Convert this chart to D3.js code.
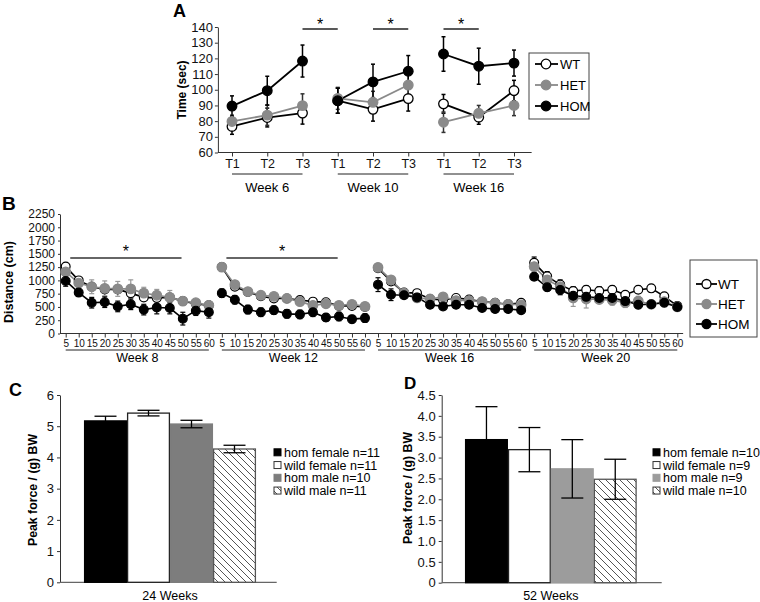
<!DOCTYPE html>
<html><head><meta charset="utf-8">
<script src="https://cdn.jsdelivr.net/npm/d3@7"></script>
<style>body{margin:0;background:#fff} svg{display:block}</style>
</head><body><svg id="c" width="760" height="602"></svg>
<script>
// ---------- DATA ----------
// Panel A
const aTicks = ["T1","T2","T3","T1","T2","T3","T1","T2","T3"];
const aWeeks = ["Week 6","Week 10","Week 16"];
const aYTicks = [60,70,80,90,100,110,120,130,140];
const aWT     = [76.6, 82.3, 85.1, 93.0, 87.5, 94.4, 91.0, 82.5, 99.5];
const aWTerr  = [5.0, 6.0, 7.0, 8.0, 7.5, 8.0, 6.0, 4.5, 6.5];
const aHET    = [79.8, 83.8, 89.9, 94.5, 92.0, 103.0, 79.3, 85.0, 90.0];
const aHETerr = [4.0, 6.5, 7.5, 7.0, 7.0, 8.0, 6.5, 5.0, 6.5];
const aHOM    = [89.6, 99.4, 118.3, 93.0, 105.0, 111.8, 122.8, 115.0, 117.0];
const aHOMerr = [6.5, 9.2, 10.2, 8.0, 11.3, 10.0, 11.0, 11.5, 8.3];
const aSig    = [[2,3],[4,5],[6,7]];
const seriesNames = ["WT","HET","HOM"];

// Panel B
const bMinutes = [5,10,15,20,25,30,35,40,45,50,55,60];
const bWeeks = ["Week 8","Week 12","Week 16","Week 20"];
const bYTicks = [0,250,500,750,1000,1250,1500,1750,2000,2250];
const bWT = [
  [1260,1000,880,830,830,760,680,670,680,610,560,530],
  [1250,880,780,700,660,660,630,600,590,520,520,500],
  [1230,980,770,760,650,630,670,640,600,580,550,580],
  [1330,1075,920,800,825,800,825,730,825,850,700,520]];
const bWTerr = [
  [60,50,60,60,60,80,60,70,60,50,50,50],
  [50,50,40,40,40,40,40,40,40,40,40,40],
  [40,40,40,40,40,40,40,40,40,40,40,40],
  [110,90,90,80,70,80,70,60,70,70,60,60]];
const bHET = [
  [1160,950,880,850,840,840,760,720,680,610,580,530],
  [1250,920,790,720,700,660,600,530,560,530,550,510],
  [1245,1010,760,670,650,690,620,620,600,570,550,540],
  [1260,1010,880,670,650,640,625,580,610,550,600,500]];
const bHETerr = [
  [80,80,130,140,140,170,110,110,130,60,60,60],
  [50,50,50,50,50,50,50,50,50,50,50,50],
  [50,50,50,50,50,50,50,50,50,50,50,50],
  [80,90,110,160,170,70,90,90,90,70,100,70]];
const bHOM = [
  [990,770,580,590,510,550,450,490,480,280,430,400],
  [760,635,450,400,440,370,360,400,300,320,270,290],
  [920,730,720,680,540,510,540,540,480,460,460,440],
  [1070,870,820,710,690,670,670,610,540,550,580,500]];
const bHOMerr = [
  [100,70,100,100,100,100,100,120,110,120,90,110],
  [80,80,80,80,80,80,80,80,70,80,70,80],
  [130,110,60,60,60,60,60,60,60,60,60,60],
  [70,70,90,70,70,70,70,70,70,70,70,70]];
const bSig = [[0,9],[12,21]];

// Panel C
const cLabels = ["hom female n=11","wild female n=11","hom male n=10","wild male n=11"];
const cValues = [5.17, 5.42, 5.07, 4.27];
const cErr    = [0.15, 0.09, 0.12, 0.12];
const cYTicks = [0,1,2,3,4,5,6];
const cTitle = "24 Weeks";

// Panel D
const dLabels = ["hom female n=10","wild female n=9","hom male n=9","wild male n=10"];
const dValues = [3.43, 3.19, 2.73, 2.48];
const dErr    = [0.79, 0.53, 0.70, 0.48];
const dYTicks = [0,0.5,1.0,1.5,2.0,2.5,3.0,3.5,4.0,4.5];
const dTitle = "52 Weeks";

// ---------- STYLE ----------
const FONT = "'Liberation Sans', Arial, Helvetica, sans-serif";
const AX = "#333";
const GRAY = "#8a8a8a";
const svg = d3.select("#c").attr("font-family", FONT);

const defs = svg.append("defs");
const pat = defs.append("pattern").attr("id","hatch").attr("patternUnits","userSpaceOnUse")
  .attr("width",7).attr("height",7);
pat.append("rect").attr("width",7).attr("height",7).attr("fill","#fff");
pat.append("path").attr("d","M0,0L7,7M-1,6L1,8M6,-1L8,1").attr("stroke","#555").attr("stroke-width",1);

function styleAxis(g, fs){
  g.attr("font-family", FONT).attr("font-size", fs);
  g.selectAll("path,line").attr("stroke", AX);
  g.selectAll("text").attr("fill","#111");
}
function panelLabel(t,x,y,fs){
  svg.append("text").attr("x",x).attr("y",y).attr("font-size",fs).attr("font-weight","bold").text(t);
}
function yTitle(t,x,y,fs){
  svg.append("text").attr("transform",`translate(${x},${y}) rotate(-90)`).attr("text-anchor","middle")
    .attr("dy","0.35em").attr("font-size",fs).attr("font-weight","bold").text(t);
}
function errBar(g, x, y1, y2, cap, color, w){
  g.append("line").attr("x1",x).attr("x2",x).attr("y1",y1).attr("y2",y2).attr("stroke",color).attr("stroke-width",w);
  [y1,y2].forEach(y=>g.append("line").attr("x1",x-cap).attr("x2",x+cap).attr("y1",y).attr("y2",y)
    .attr("stroke",color).attr("stroke-width",w));
}
const styles = {
  WT:  {fill:"#fff", stroke:"#000", line:"#000", err:"#000"},
  HET: {fill:GRAY, stroke:GRAY, line:GRAY, err:"#333"},
  HOM: {fill:"#000", stroke:"#000", line:"#000", err:"#000"}
};

// ---------- PANEL A ----------
panelLabel("A",173,17,18);
const xA = d3.scaleLinear().domain([0,8]).range([232,514]);
const yA = d3.scaleLinear().domain([60,140]).range([152.5,27]);
const gA = svg.append("g");
const yAxA = gA.append("g").attr("transform",`translate(${xA(-0.4)},0)`)
  .call(d3.axisLeft(yA).tickValues(aYTicks).tickFormat(d3.format("d")).tickSize(3).tickSizeOuter(0).tickPadding(2));
styleAxis(yAxA, 13);
const xAxA = gA.append("g").attr("transform",`translate(0,${yA(60)})`)
  .call(d3.axisBottom(xA).tickValues(d3.range(9)).tickFormat(i=>aTicks[i]).tickSize(4).tickPadding(3));
xAxA.select(".domain").remove();
xAxA.append("line").attr("x1",xA(-0.4)).attr("x2",xA(8.5)).attr("y1",0).attr("y2",0);
styleAxis(xAxA, 12.5);
aWeeks.forEach((w,g)=>{
  gA.append("line").attr("x1",xA(3*g)).attr("x2",xA(3*g+2)).attr("y1",174).attr("y2",174).attr("stroke","#222");
  gA.append("text").attr("x",xA(3*g+1)).attr("y",191.5).attr("text-anchor","middle").attr("font-size",13).text(w);
});
aSig.forEach(([a,b])=>{
  gA.append("line").attr("x1",xA(a)).attr("x2",xA(b)).attr("y1",29).attr("y2",29).attr("stroke","#222").attr("stroke-width",1.5);
  gA.append("text").attr("x",(xA(a)+xA(b))/2).attr("y",29.5).attr("text-anchor","middle").attr("font-size",16).text("*");
});
yTitle("Time (sec)",181.5,90,12);
const aData = {WT:[aWT,aWTerr], HET:[aHET,aHETerr], HOM:[aHOM,aHOMerr]};
seriesNames.forEach(n=>{
  const [v,e]=aData[n];
  v.forEach((d,i)=>errBar(gA, xA(i), yA(d-e[i]), yA(d+e[i]), 2, styles[n].err, 1.5));
});
seriesNames.forEach(n=>{
  const v=aData[n][0];
  const line=d3.line().x(i=>xA(i)).y(i=>yA(v[i]));
  [0,1,2].forEach(g=>gA.append("path").attr("d",line([3*g,3*g+1,3*g+2])).attr("fill","none")
    .attr("stroke",styles[n].line).attr("stroke-width",1.8));
});
seriesNames.forEach(n=>{
  const v=aData[n][0];
  gA.selectAll(null).data(v).enter().append("circle").attr("cx",(d,i)=>xA(i)).attr("cy",d=>yA(d)).attr("r",4.8)
    .attr("fill",styles[n].fill).attr("stroke",styles[n].stroke).attr("stroke-width",1.3);
});
// legend A
const lgA = svg.append("g");
lgA.append("rect").attr("x",529).attr("y",53).attr("width",60).attr("height",66).attr("fill","#fff").attr("stroke","#444");
seriesNames.forEach((n,i)=>{
  const y=64+i*21;
  lgA.append("line").attr("x1",535).attr("x2",558).attr("y1",y).attr("y2",y).attr("stroke",styles[n].line).attr("stroke-width",1.8);
  lgA.append("circle").attr("cx",546).attr("cy",y).attr("r",4.8).attr("fill",styles[n].fill).attr("stroke",styles[n].stroke).attr("stroke-width",1.3);
  lgA.append("text").attr("x",560).attr("y",y).attr("dy","0.36em").attr("font-size",13).text(n);
});

// ---------- PANEL B ----------
panelLabel("B",2,210,19);
const xB = d3.scaleLinear().domain([0,47]).range([65.7,677.3]);
const yB = d3.scaleLinear().domain([0,2250]).range([333.5,214]);
const gB = svg.append("g");
const yAxB = gB.append("g").attr("transform","translate(60,0)")
  .call(d3.axisLeft(yB).tickValues(bYTicks).tickFormat(d3.format("d")).tickSize(2).tickSizeOuter(0).tickPadding(3));
styleAxis(yAxB, 12);
const xAxB = gB.append("g").attr("transform",`translate(0,${yB(0)})`)
  .call(d3.axisBottom(xB).tickValues(d3.range(48)).tickFormat(i=>bMinutes[i%12]).tickSize(4).tickPadding(2));
xAxB.select(".domain").remove();
xAxB.append("line").attr("x1",60).attr("x2",xB(47.45)).attr("y1",0).attr("y2",0);
styleAxis(xAxB, 10);
bWeeks.forEach((w,g)=>{
  gB.append("line").attr("x1",xB(12*g)).attr("x2",xB(12*g+11)).attr("y1",350).attr("y2",350).attr("stroke","#222");
  gB.append("text").attr("x",xB(12*g+5.5)).attr("y",361.5).attr("text-anchor","middle").attr("font-size",12.5).text(w);
});
bSig.forEach(([a,b])=>{
  gB.append("line").attr("x1",xB(a+0.35)).attr("x2",xB(b-0.1)).attr("y1",258).attr("y2",258).attr("stroke","#333").attr("stroke-width",1.6);
  gB.append("text").attr("x",(xB(a+0.35)+xB(b-0.1))/2).attr("y",256.5).attr("text-anchor","middle").attr("font-size",16).text("*");
});
yTitle("Distance (cm)",8.5,282,12.5);
const bData = {WT:[bWT,bWTerr], HET:[bHET,bHETerr], HOM:[bHOM,bHOMerr]};
const bErrCol = {WT:"#000", HET:"#999", HOM:"#000"};
seriesNames.forEach(n=>{
  const [v,e]=bData[n];
  v.forEach((arr,g)=>arr.forEach((d,k)=>errBar(gB, xB(12*g+k), yB(d-e[g][k]), yB(d+e[g][k]), 2.5, bErrCol[n], 1.2)));
});
seriesNames.forEach(n=>{
  const v=bData[n][0];
  v.forEach((arr,g)=>{
    const line=d3.line().x((d,k)=>xB(12*g+k)).y(d=>yB(d));
    gB.append("path").attr("d",line(arr)).attr("fill","none").attr("stroke",styles[n].line).attr("stroke-width",1.6);
  });
});
seriesNames.forEach(n=>{
  const v=bData[n][0];
  v.forEach((arr,g)=>{
    gB.selectAll(null).data(arr).enter().append("circle").attr("cx",(d,k)=>xB(12*g+k)).attr("cy",d=>yB(d))
      .attr("r", n==="HET"?4.8:4.4).attr("fill",styles[n].fill).attr("stroke",styles[n].stroke).attr("stroke-width",1.2);
  });
});
const lgB = svg.append("g");
lgB.append("rect").attr("x",690).attr("y",260).attr("width",67).attr("height",77).attr("fill","#fff").attr("stroke","#444");
seriesNames.forEach((n,i)=>{
  const y=284+i*20;
  lgB.append("line").attr("x1",696).attr("x2",717).attr("y1",y).attr("y2",y).attr("stroke",styles[n].line).attr("stroke-width",1.8);
  lgB.append("circle").attr("cx",706.5).attr("cy",y).attr("r",4.5).attr("fill",styles[n].fill).attr("stroke",styles[n].stroke).attr("stroke-width",1.3);
  lgB.append("text").attr("x",718).attr("y",y).attr("dy","0.36em").attr("font-size",13.5).text(n);
});

// ---------- BAR PANELS ----------
const barFills = ["#000","#fff",null,"url(#hatch)"];
const barStrokes = ["#000","#222",null,"#555"];
function barPanel(opt){
  const g = svg.append("g");
  const y = d3.scaleLinear().domain(opt.dom).range([opt.y0, opt.y1]);
  const x = d3.scaleBand().domain(opt.labels).range(opt.xr).padding(0);
  const ya = g.append("g").attr("transform",`translate(${opt.ax},0)`)
    .call(d3.axisLeft(y).tickValues(opt.ticks).tickFormat(opt.fmt).tickSize(3).tickSizeOuter(0).tickPadding(3));
  styleAxis(ya, 13);
  g.append("line").attr("x1",opt.ax).attr("x2",opt.axEnd).attr("y1",y(0)).attr("y2",y(0)).attr("stroke","#666").attr("stroke-width",1.3);
  const fills = barFills.map((f,i)=>f||opt.gray);
  const strokes = barStrokes.map((s,i)=>s||opt.grayStroke);
  g.selectAll(null).data(opt.values).enter().append("rect")
    .attr("x",(d,i)=>x(opt.labels[i])+0.6).attr("width",x.bandwidth()-1.2)
    .attr("y",d=>y(d)).attr("height",d=>y(0)-y(d))
    .attr("fill",(d,i)=>fills[i]).attr("stroke",(d,i)=>strokes[i]).attr("stroke-width",1.3);
  opt.values.forEach((d,i)=>errBar(g, x(opt.labels[i])+x.bandwidth()/2, y(d-opt.err[i]), y(d+opt.err[i]), 11, "#000", 1.3));
  g.append("text").attr("x",(opt.xr[0]+opt.xr[1])/2).attr("y",600).attr("text-anchor","middle").attr("font-size",12.5).text(opt.title);
  opt.labels.forEach((l,i)=>{
    const cy = opt.ly + i*12.75;
    g.append("rect").attr("x",opt.lx).attr("y",cy-3.5).attr("width",7).attr("height",7)
      .attr("fill",fills[i]).attr("stroke",i===0?"#000":(i===2?opt.gray:"#333")).attr("stroke-width",1);
    g.append("text").attr("x",opt.lx+10).attr("y",cy).attr("dy","0.36em").attr("font-size",12.5).text(l);
  });
}
panelLabel("C",9,396,18);
yTitle("Peak force / (g) BW",33,490,12.3);
barPanel({dom:[0,6], y0:582.3, y1:395, labels:cLabels, values:cValues, err:cErr, ticks:cYTicks,
  fmt:d3.format("d"), ax:60, axEnd:276.7, xr:[84,256], gray:"#7d7d7d", grayStroke:"#7d7d7d",
  title:cTitle, lx:274, ly:452.3});
panelLabel("D",404,389,17);
yTitle("Peak force / (g) BW",407.5,488,12.3);
barPanel({dom:[0,4.5], y0:582.7, y1:395, labels:dLabels, values:dValues, err:dErr, ticks:dYTicks,
  fmt:d=>d===0?"0":d3.format(".1f")(d), ax:441.7, axEnd:661.7, xr:[465,636.7], gray:"#9c9c9c", grayStroke:"#9c9c9c",
  title:dTitle, lx:653, ly:452.3});
</script></body></html>
